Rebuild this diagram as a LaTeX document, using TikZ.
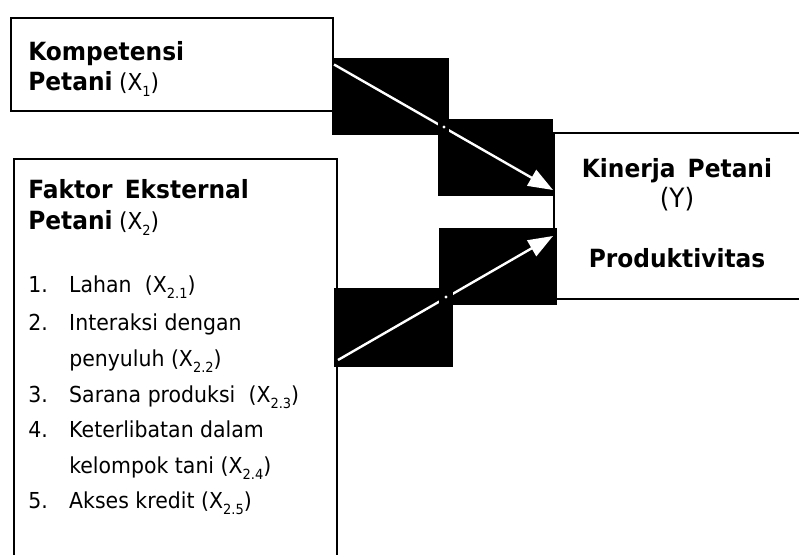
\documentclass[tikz,border=0pt]{standalone}
\usepackage{fontspec}
\setmainfont[FakeStretch=0.93]{DejaVu Sans}
\usetikzlibrary{arrows.meta}
\newcommand{\sbx}[1]{\raisebox{-5pt}{\fontsize{10.5}{10.5}\selectfont #1}}
\newcommand{\bt}[1]{{\fontsize{18.8}{21}\selectfont\bfseries #1}}
\newcommand{\hr}[1]{{\fontsize{17.5}{20}\selectfont #1}}
\newcommand{\numb}[1]{\makebox[30.75pt][l]{#1}}
\begin{document}
\begin{tikzpicture}[x=0.75pt,y=-0.75pt,
  box/.style={draw=black, line width=1.5pt, anchor=north west, inner sep=0pt, fill=white},
  blk/.style={fill=black},
  flow/.style={draw=white, line width=1.8pt, -{Triangle[length=18.5pt,width=13.5pt,fill=white]}},
  lbl/.style={anchor=base west, inner sep=0pt, font=\fontsize{16.5}{19}\selectfont},
  clbl/.style={anchor=base, inner sep=0pt, font=\fontsize{16.5}{19}\selectfont}
]
\useasboundingbox (0,0) rectangle (799,554);
\fill[white] (0,0) rectangle (799,554);
\clip (0,0) rectangle (799,554);

% boxes
\node[box, minimum width=241.9pt, minimum height=69.75pt] (kp) at (9.5,17) {};
\node[box, minimum width=242.25pt, minimum height=309pt] (fe) at (13,158) {};
\node[box, minimum width=192.75pt, minimum height=124.5pt] (kin) at (553,132) {};

% black blocks
\fill[blk] (332,58) rectangle (449,135);
\fill[blk] (438,119) rectangle (553,196);
\fill[blk] (439,228) rectangle (557,305);
\fill[blk] (334,288) rectangle (453,367);

% connectors
\coordinate (t1) at ([yshift=19.5pt]kin.west);
\coordinate (t2) at ([yshift=-15pt]kin.west);
\coordinate (s2) at ([yshift=3.75pt]fe.east);
\draw[flow] (kp.east) -- (t1);
\draw[flow] (s2) -- (t2);

% overlap patches
\fill[blk] (438,119) rectangle (449,135);
\fill[white] (444,127) circle (1.6);
\fill[blk] (439,288) rectangle (453,305);
\fill[white] (446,297) circle (1.6);

% texts box 1
\node[lbl] (k1) at (28,60) {\bt{Kompetensi}};
\node[lbl] (k2) at (28,90) {\bt{Petani} \hr{(X\sbx{1})}};

% texts box 2
\node[lbl] (f1) at (28,198) {\bt{Faktor\hspace{3pt} Eksternal}};
\node[lbl] (f2) at (28,229) {\bt{Petani} \hr{(X\sbx{2})}};
\node[lbl] (l1) at (28,292) {\numb{1.}Lahan\hspace{5pt} (X\sbx{2.1})};
\node[lbl] (l2) at (28,330) {\numb{2.}Interaksi dengan};
\node[lbl] (l2b) at (28,366) {\numb{}penyuluh (X\sbx{2.2})};
\node[lbl] (l3) at (28,402) {\numb{3.}Sarana produksi\hspace{5pt} (X\sbx{2.3})};
\node[lbl] (l4) at (28,437) {\numb{4.}Keterlibatan dalam};
\node[lbl] (l4b) at (28,473) {\numb{}kelompok tani (X\sbx{2.4})};
\node[lbl] (l5) at (28,508) {\numb{5.}Akses kredit (X\sbx{2.5})};

% texts box Y
\node[clbl] (y1) at (677,177) {\bt{Kinerja\hspace{3pt} Petani}};
\node[clbl] (y2) at (677,207) {\fontsize{20}{22}\selectfont (Y)};
\node[clbl] (y3) at (677,267) {\bt{Produktivitas}};
\end{tikzpicture}
\end{document}
